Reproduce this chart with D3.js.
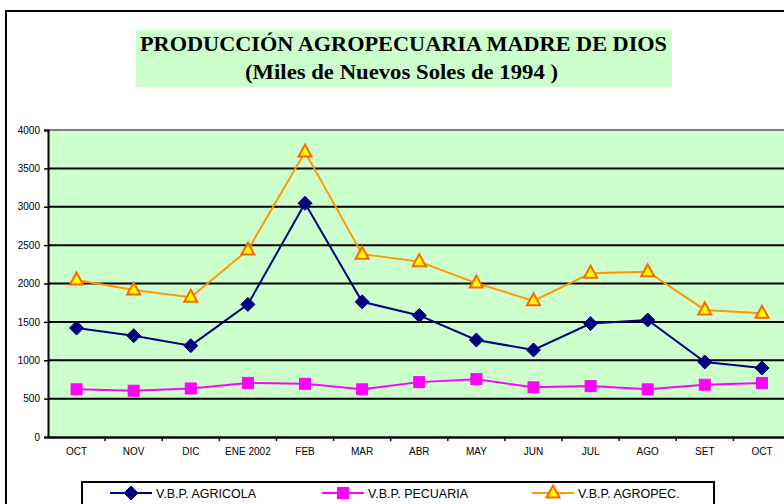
<!DOCTYPE html>
<html>
<head>
<meta charset="utf-8">
<script src="https://cdn.jsdelivr.net/npm/d3@7"></script>
<style>
  body { margin: 0; background: #fff; }
</style>
</head>
<body>
<div id="chart"></div>
<script>
// months shown on the x axis
const months = ["OCT", "NOV", "DIC", "ENE 2002", "FEB", "MAR", "ABR", "MAY", "JUN", "JUL", "AGO", "SET", "OCT "];
const agricola = [1420, 1320, 1190, 1728, 3045, 1762, 1584, 1264, 1134, 1478, 1524, 977, 899];
const pecuaria = [621, 603, 632, 705, 693, 621, 715, 754, 647, 663, 621, 681, 705];
const agropec = [2046, 1915, 1820, 2436, 3712, 2382, 2285, 2005, 1774, 2135, 2154, 1656, 1612];
const yTicks = [0, 500, 1000, 1500, 2000, 2500, 3000, 3500, 4000];

const sans = "Arial, 'Liberation Sans', sans-serif";
const serif = "'Times New Roman', 'Liberation Serif', 'DejaVu Serif', serif";

const width = 784, height = 504;
const svg = d3.select("#chart").append("svg")
  .attr("width", width).attr("height", height)
  .attr("font-family", sans);

// outer frame (runs off the right and bottom)
svg.append("rect")
  .attr("x", 6).attr("y", 11)
  .attr("width", 800).attr("height", 520)
  .attr("fill", "#fff").attr("stroke", "#000").attr("stroke-width", 2);

// title box
svg.append("rect")
  .attr("x", 136).attr("y", 30).attr("width", 536).attr("height", 57)
  .attr("fill", "#ccffcc");
const title = svg.append("g").style("font-family", serif).style("font-weight", "bold");
title.append("text")
  .attr("x", 403.5).attr("y", 51)
  .attr("text-anchor", "middle")
  .attr("textLength", 527).attr("lengthAdjust", "spacingAndGlyphs")
  .style("font-size", "21px")
  .text("PRODUCCIÓN AGROPECUARIA MADRE DE DIOS");
title.append("text")
  .attr("x", 401.5).attr("y", 79)
  .attr("text-anchor", "middle")
  .attr("textLength", 313).attr("lengthAdjust", "spacingAndGlyphs")
  .style("font-size", "20px")
  .text("(Miles de Nuevos Soles de 1994 )");

const plot = { left: 48, right: 790.5, top: 130, bottom: 437 };

const x = d3.scaleBand().domain(months).range([plot.left, plot.right]);
const y = d3.scaleLinear().domain([0, 4000]).range([plot.bottom, plot.top]);
const cx = (d) => x(d) + x.bandwidth() / 2;

// plot background
svg.append("rect")
  .attr("x", plot.left).attr("y", plot.top)
  .attr("width", plot.right - plot.left).attr("height", plot.bottom - plot.top)
  .attr("fill", "#ccffcc");
svg.append("line")
  .attr("x1", plot.left).attr("x2", plot.right)
  .attr("y1", plot.top).attr("y2", plot.top)
  .attr("stroke", "#808080").attr("stroke-width", 2);

// gridlines
svg.append("g").selectAll("line")
  .data(yTicks.filter((t) => t > 0 && t < 4000))
  .join("line")
  .attr("x1", plot.left).attr("x2", plot.right)
  .attr("y1", (d) => y(d)).attr("y2", (d) => y(d))
  .attr("stroke", "#000").attr("stroke-width", 2);

// y axis
const yAxis = svg.append("g")
  .attr("transform", `translate(${plot.left},0)`)
  .call(d3.axisLeft(y).tickValues(yTicks).tickFormat(d3.format("d")).tickSize(4).tickPadding(4));
yAxis.select(".domain").attr("stroke-width", 2);
yAxis.selectAll(".tick line").attr("stroke-width", 1.5);
yAxis.selectAll("text").attr("font-family", sans).attr("font-size", 10).attr("fill", "#000");

// x axis
const xAxis = svg.append("g")
  .attr("transform", `translate(0,${plot.bottom})`)
  .call(d3.axisBottom(x).tickSize(0).tickPadding(11));
xAxis.select(".domain").attr("stroke-width", 2.5);
xAxis.selectAll("text").attr("font-family", sans).attr("font-size", 10).attr("fill", "#000");
// tick marks between categories
xAxis.append("g").selectAll("line")
  .data(months.slice(1))
  .join("line")
  .attr("x1", (d) => x(d)).attr("x2", (d) => x(d))
  .attr("y1", 0).attr("y2", 4)
  .attr("stroke", "#000").attr("stroke-width", 1.5);

const line = d3.line().x((d, i) => cx(months[i])).y((d) => y(d));

const series = [
  { name: "V.B.P. AGRICOLA", values: agricola, color: "#000080", shape: "diamond" },
  { name: "V.B.P. PECUARIA", values: pecuaria, color: "#ff00ff", shape: "square" },
  { name: "V.B.P. AGROPEC.", values: agropec, color: "#ff9900", shape: "triangle" }
];

function marker(g, shape, px, py) {
  if (shape === "diamond") {
    g.append("path")
      .attr("d", `M${px},${py - 7}L${px + 7},${py}L${px},${py + 7}L${px - 7},${py}Z`)
      .attr("fill", "#000080").attr("stroke", "#000080").attr("stroke-width", 1);
  } else if (shape === "square") {
    g.append("rect")
      .attr("x", px - 5.5).attr("y", py - 5.5).attr("width", 11).attr("height", 11)
      .attr("fill", "#ff00ff").attr("stroke", "#ff00ff").attr("stroke-width", 1);
  } else {
    g.append("path")
      .attr("d", `M${px},${py - 7.5}L${px + 6.5},${py + 4.5}L${px - 6.5},${py + 4.5}Z`)
      .attr("fill", "#ffff00").attr("stroke", "#ff6600").attr("stroke-width", 2)
      .attr("stroke-linejoin", "miter");
  }
}

series.forEach((s) => {
  svg.append("path")
    .datum(s.values)
    .attr("d", line)
    .attr("fill", "none")
    .attr("stroke", s.color).attr("stroke-width", 2);
  const g = svg.append("g");
  s.values.forEach((v, i) => marker(g, s.shape, cx(months[i]), y(v)));
});

// legend
svg.append("rect")
  .attr("x", 82).attr("y", 482).attr("width", 632).attr("height", 30)
  .attr("fill", "#fff").attr("stroke", "#000").attr("stroke-width", 2);
const legendX = [110, 322, 532];
series.forEach((s, i) => {
  const lx = legendX[i];
  const g = svg.append("g");
  g.append("line")
    .attr("x1", lx).attr("x2", lx + 42).attr("y1", 493).attr("y2", 493)
    .attr("stroke", s.color).attr("stroke-width", 2);
  marker(g, s.shape, lx + 21, 493);
  g.append("text")
    .attr("x", lx + 46).attr("y", 498)
    .attr("font-size", 12.5).attr("fill", "#000")
    .text(s.name);
});
</script>
</body>
</html>
